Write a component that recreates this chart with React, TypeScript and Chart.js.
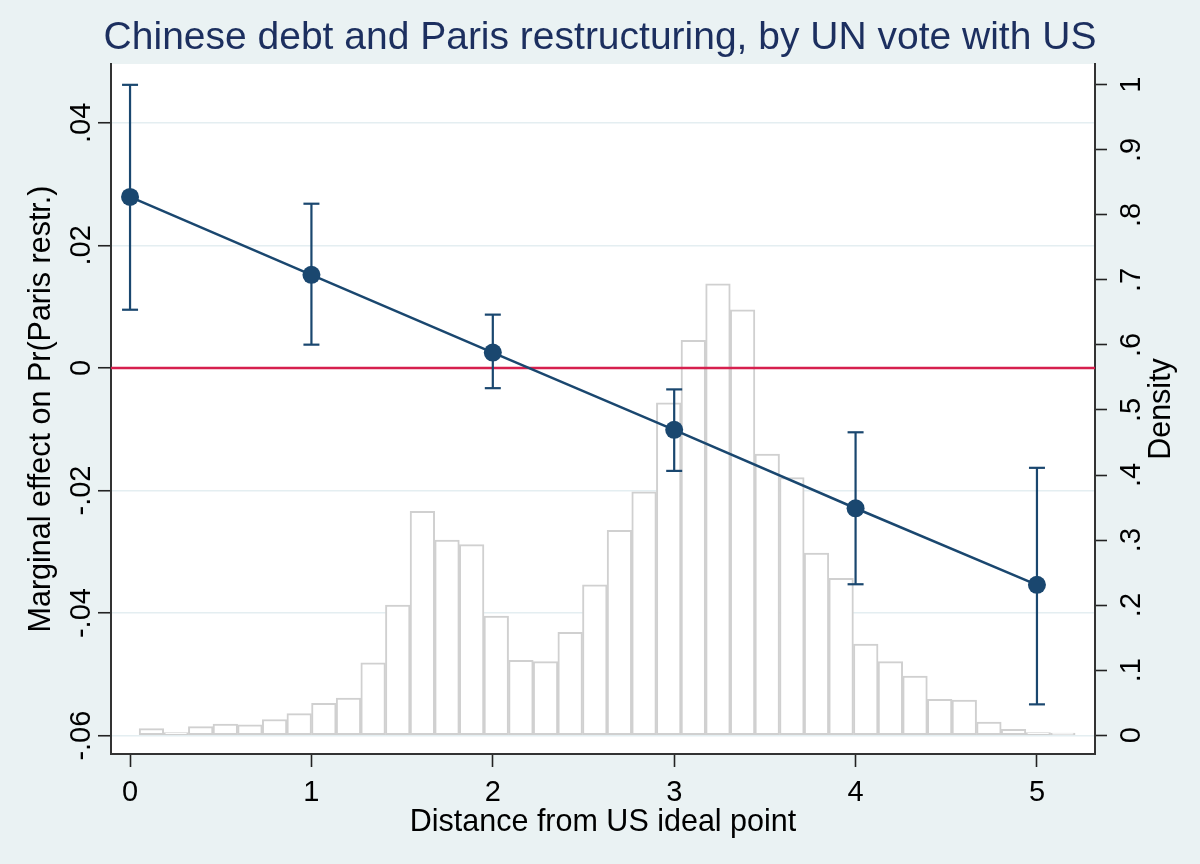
import React, { useEffect, useRef } from 'react';
import { Chart, registerables } from 'chart.js';

Chart.register(...registerables);

const FONT = "'Liberation Sans', Arial, sans-serif";

// x axis
const xTicks = [0, 1, 2, 3, 4, 5];
const xMin = -0.105;
const xMax = 5.32;

// marginal effect estimates with 95% CI
const distPoints = [0, 1, 2, 3, 4, 5];
const marginalEffect = [0.0279, 0.0152, 0.0025, -0.0101, -0.0229, -0.0354];
const ciLower = [0.0095, 0.0038, -0.0033, -0.0168, -0.0353, -0.0549];
const ciUpper = [0.0462, 0.0268, 0.0087, -0.0035, -0.0105, -0.0163];

// histogram of distance (density)
const binStart = 0.05;
const binWidth = 0.1358;
const density = [
  0.010, 0.004, 0.013, 0.017, 0.016, 0.024, 0.033, 0.049, 0.057, 0.111,
  0.200, 0.344, 0.300, 0.293, 0.183, 0.115, 0.113, 0.158, 0.231, 0.315,
  0.374, 0.511, 0.607, 0.694, 0.654, 0.432, 0.396, 0.280, 0.241, 0.140,
  0.113, 0.091, 0.055, 0.054, 0.020, 0.009, 0.004, 0.003,
];

// y axes
const leftTicks = [-0.06, -0.04, -0.02, 0, 0.02, 0.04];
const rightTicks = [0, 0.1, 0.2, 0.3, 0.4, 0.5, 0.6, 0.7, 0.8, 0.9, 1];

const NAVY = '#1a476f';
const RED = '#d6204e';

const fmt = (v: number) => {
  if (v === 0) return '0';
  const s = String(Math.round(v * 1000) / 1000);
  return s.replace('0.', '.');
};

const plotBackground = {
  id: 'plotBackground',
  beforeDraw(chart: any) {
    const { ctx, chartArea } = chart;
    ctx.save();
    ctx.fillStyle = '#ffffff';
    ctx.fillRect(chartArea.left, chartArea.top, chartArea.right - chartArea.left, chartArea.bottom - chartArea.top);
    ctx.restore();
  },
};

// vertical axes in the reference use rotated labels and a rotated right title
const yAxisText = {
  id: 'yAxisText',
  afterDraw(chart: any) {
    const { ctx, chartArea } = chart;
    const left = chart.scales.y;
    const right = chart.scales.y2;
    const mid = (chartArea.top + chartArea.bottom) / 2;
    const rot = (text: string, x: number, y: number) => {
      ctx.save();
      ctx.translate(x, y);
      ctx.rotate(-Math.PI / 2);
      ctx.fillText(text, 0, 0);
      ctx.restore();
    };
    ctx.save();
    ctx.fillStyle = '#000';
    ctx.textAlign = 'center';
    ctx.textBaseline = 'middle';
    ctx.font = `29px ${FONT}`;
    left.ticks.forEach((t: any) => rot(fmt(t.value), left.right - 29, left.getPixelForValue(t.value)));
    right.ticks.forEach((t: any) => rot(fmt(t.value), right.left + 37, right.getPixelForValue(t.value)));
    ctx.font = `30.5px ${FONT}`;
    rot('Marginal effect on Pr(Paris restr.)', left.left + 42, mid);
    rot('Density', right.left + 67, mid);
    ctx.restore();
  },
};

const App = () => {
  const chartRef = useRef<HTMLCanvasElement | null>(null);
  const chartInstance = useRef<Chart | null>(null);

  useEffect(() => {
    if (!chartRef.current) return;
    if (chartInstance.current) chartInstance.current.destroy();

    const histData = density.map((d, i) => ({ x: binStart + (i + 0.5) * binWidth, y: d }));
    const lineData = distPoints.map((x, i) => ({ x, y: marginalEffect[i] }));
    const ciData: any[] = [];
    distPoints.forEach((x, i) => {
      ciData.push({ x, y: ciLower[i] }, { x, y: ciUpper[i] }, { x, y: null });
    });

    const ctx = chartRef.current.getContext('2d');
    if (ctx) {
      chartInstance.current = new Chart(ctx, {
        type: 'bar',
        data: {
          datasets: [
            {
              type: 'line',
              data: lineData,
              yAxisID: 'y',
              borderColor: NAVY,
              borderWidth: 2.5,
              pointRadius: 9,
              pointBackgroundColor: NAVY,
              pointBorderWidth: 0,
              order: 0,
            },
            {
              type: 'line',
              data: ciData,
              yAxisID: 'y',
              borderColor: NAVY,
              borderWidth: 2.2,
              spanGaps: false,
              pointStyle: 'line',
              pointRadius: 8,
              pointBorderColor: NAVY,
              pointBorderWidth: 2.2,
              order: 1,
            },
            {
              type: 'line',
              data: [{ x: xMin, y: 0 }, { x: xMax, y: 0 }],
              yAxisID: 'y',
              borderColor: RED,
              borderWidth: 2.5,
              pointRadius: 0,
              order: 2,
            },
            {
              type: 'bar',
              data: histData,
              yAxisID: 'y2',
              backgroundColor: '#ffffff',
              borderColor: '#d0d0d0',
              borderWidth: 2,
              borderSkipped: false,
              barPercentage: 1,
              categoryPercentage: 1,
              order: 3,
            },
          ] as any,
        },
        options: {
          animation: false,
          responsive: true,
          maintainAspectRatio: false,
          events: [],
          layout: { padding: 0 },
          font: { family: FONT },
          plugins: {
            legend: { display: false },
            tooltip: { enabled: false },
            title: {
              display: true,
              text: 'Chinese debt and Paris restructuring, by UN vote with US',
              color: '#1c2f5f',
              font: { family: FONT, size: 39, weight: 'normal' },
              padding: { top: 14.6, bottom: 2.6 },
            },
          },
          scales: {
            x: {
              type: 'linear',
              position: 'bottom',
              min: xMin,
              max: xMax,
              offset: false,
              afterBuildTicks: (scale: any) => {
                scale.ticks = xTicks.map((v) => ({ value: v }));
              },
              afterFit: (scale: any) => {
                scale.height = 110;
              },
              ticks: {
                color: '#000',
                font: { family: FONT, size: 29 },
                padding: 9,
                maxRotation: 0,
                callback: (v: any) => fmt(Number(v)),
              },
              grid: {
                offset: false,
                drawOnChartArea: false,
                drawTicks: true,
                tickLength: 13,
                tickColor: '#222',
                tickWidth: 1.6,
              },
              border: { color: '#333', width: 2 },
              title: {
                display: true,
                text: 'Distance from US ideal point',
                color: '#000',
                font: { family: FONT, size: 30.5 },
                padding: { top: 0, bottom: 23 },
              },
            },
            y: {
              type: 'linear',
              position: 'left',
              min: -0.063,
              max: 0.0496,
              afterBuildTicks: (scale: any) => {
                scale.ticks = leftTicks.map((v) => ({ value: v }));
              },
              afterFit: (scale: any) => {
                scale.width = 111;
              },
              ticks: { display: false },
              grid: { color: '#e4eef1', lineWidth: 1.5, drawTicks: true, tickLength: 13, tickColor: '#222', tickWidth: 1.6 },
              border: { color: '#333', width: 2 },
            },
            y2: {
              type: 'linear',
              position: 'right',
              min: -0.029,
              max: 1.032,
              afterBuildTicks: (scale: any) => {
                scale.ticks = rightTicks.map((v) => ({ value: v }));
              },
              afterFit: (scale: any) => {
                scale.width = 105;
              },
              ticks: { display: false },
              grid: { drawOnChartArea: false, drawTicks: true, tickLength: 12, tickColor: '#222', tickWidth: 1.6 },
              border: { color: '#333', width: 2 },
            },
          },
        } as any,
        plugins: [plotBackground, yAxisText],
      });
    }

    return () => {
      if (chartInstance.current) {
        chartInstance.current.destroy();
        chartInstance.current = null;
      }
    };
  }, []);

  return (
    <div
      style={{
        position: 'absolute',
        left: 0,
        top: 0,
        width: '1200px',
        height: '864px',
        background: '#eaf2f3',
      }}
    >
      <canvas ref={chartRef} />
    </div>
  );
};

export default App;
